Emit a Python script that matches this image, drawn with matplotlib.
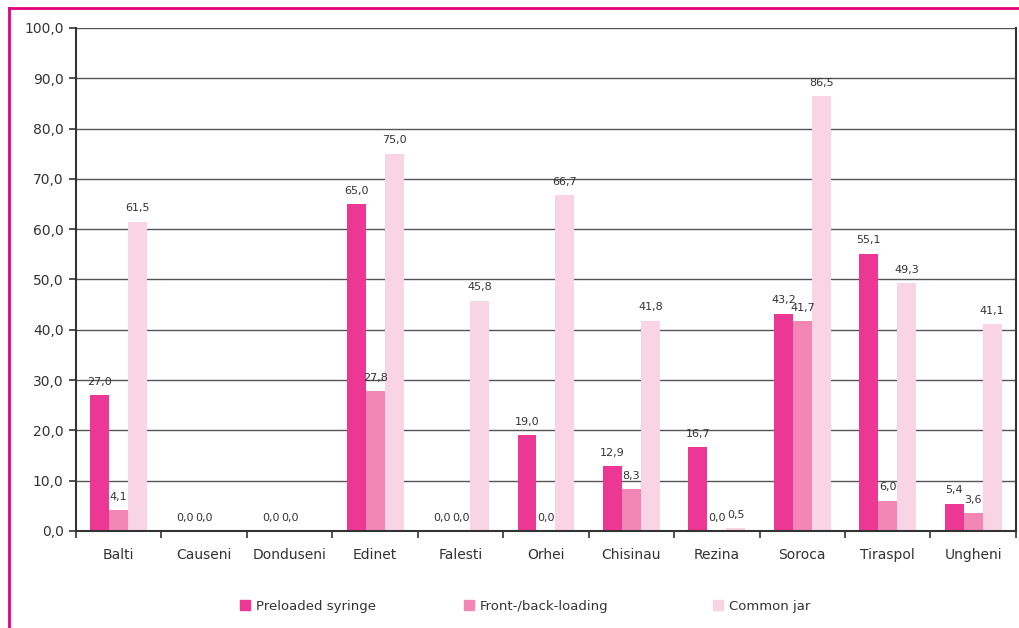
import numpy as np
import matplotlib.pyplot as plt
from matplotlib.lines import Line2D

districts = ['Balti', 'Causeni', 'Donduseni', 'Edinet', 'Falesti', 'Orhei',
             'Chisinau', 'Rezina', 'Soroca', 'Tiraspol', 'Ungheni']
preloaded = [27.0, 0.0, 0.0, 65.0, 0.0, 19.0, 12.9, 16.7, 43.2, 55.1, 5.4]
front_back = [4.1, 0.0, 0.0, 27.8, 0.0, 0.0, 8.3, 0.0, 41.7, 6.0, 3.6]
common_jar = [61.5, np.nan, np.nan, 75.0, 45.8, 66.7, 41.8, 0.5, 86.5, 49.3, 41.1]

series = [('Preloaded syringe', preloaded, '#ec3894'),
          ('Front-/back-loading', front_back, '#f287b6'),
          ('Common jar', common_jar, '#f9d4e5')]

fig = plt.figure(figsize=(10.19, 6.28), dpi=100)
ax = fig.add_axes([0.0746, 0.1545, 0.9224, 0.801])

x = np.arange(len(districts))
w = 0.222
for i, (name, vals, col) in enumerate(series):
    vals = np.array(vals, dtype=float)
    pos = x + (i - 1) * w
    ax.bar(pos, vals, width=w, color=col, label=name, zorder=2)
    for p, v in zip(pos, vals):
        if np.isnan(v):
            continue
        ax.annotate(f'{v:.1f}'.replace('.', ','), (p, v), xytext=(0, 6),
                    textcoords='offset points', ha='center', va='bottom',
                    fontsize=8, color='#333333')

ax.set_xlim(-0.5, len(districts) - 0.5)
ax.set_ylim(0, 100)
ax.set_yticks(np.arange(0, 101, 10))
ax.set_yticklabels([f'{t:.1f}'.replace('.', ',') for t in np.arange(0, 101, 10)])
ax.set_xticks(x)
ax.set_xticklabels(districts)
ax.set_xticks(np.arange(-0.5, len(districts), 1), minor=True)
ax.tick_params(axis='x', which='major', length=0, pad=12, labelsize=10, labelcolor='#333333')
ax.tick_params(axis='x', which='minor', length=5, width=1.2, color='#333333')
ax.tick_params(axis='y', length=5, width=1.2, color='#333333', labelsize=10,
               labelcolor='#333333', pad=4)
ax.yaxis.grid(True, color='#555555', linewidth=1.0, zorder=0)
ax.set_axisbelow(True)
for s in ['left', 'bottom', 'right']:
    ax.spines[s].set_color('#333333')
    ax.spines[s].set_linewidth(1.5)
ax.spines['top'].set_visible(False)

# one legend per entry so the column spacing follows the original
legend_x = [0.2355, 0.455, 0.6997]
for lx, (name, _, c) in zip(legend_x, series):
    h = Line2D([], [], marker='s', linestyle='none', markersize=7,
               markerfacecolor=c, markeredgecolor=c)
    fig.legend([h], [name], loc='center left', bbox_to_anchor=(lx, 0.035),
               frameon=False, fontsize=9.5, handletextpad=0.4, handlelength=0.8,
               borderpad=0, borderaxespad=0, labelcolor='#333333')

# magenta frame on the top and left
fig.add_artist(Line2D([0.009, 1.0], [0.987, 0.987], color='#e6007e', linewidth=2))
fig.add_artist(Line2D([0.009, 0.009], [0.0, 0.987], color='#e6007e', linewidth=2))

fig.savefig('out.png', dpi=100)
